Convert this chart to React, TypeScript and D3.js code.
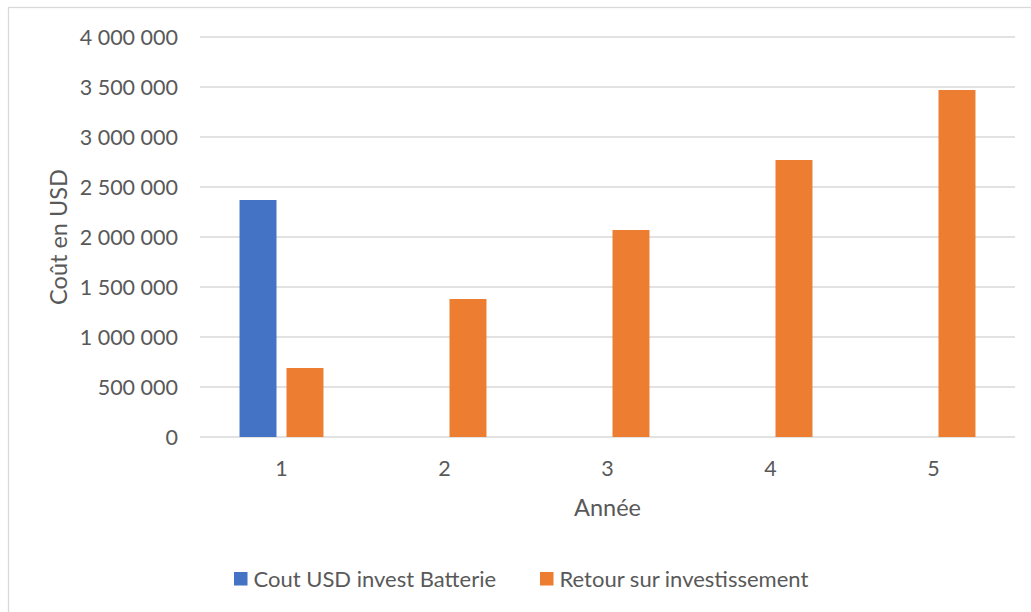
import * as d3 from 'd3'
import { useEffect, useRef } from 'react'

// valeurs
const years = ['1', '2', '3', '4', '5']
const seriesNames = ['Cout USD invest Batterie', 'Retour sur investissement']
const coutBatterie: (number | null)[] = [2370000, null, null, null, null]
const retourInvest: (number | null)[] = [690000, 1380000, 2070000, 2770000, 3470000]
const seriesColors = ['#4472C4', '#ED7D31']
const yMaxValue = 4000000

const FONT = 'Lato, "Liberation Sans", sans-serif'
const TEXT = '#595959'
const GRID = '#D9D9D9'

function BarChart() {
  const svgRef = useRef<SVGSVGElement>(null)

  useEffect(() => {
    if (!svgRef.current) return
    const svg = d3.select(svgRef.current)
    svg.selectAll('*').remove()

    const w = 1031
    const h = 612
    const plot = { left: 200, right: 1015, top: 37, bottom: 437 }

    // cadre du graphique
    svg.append('rect')
      .attr('x', 8.5).attr('y', 7.5)
      .attr('width', w).attr('height', h)
      .attr('fill', '#fff').attr('stroke', GRID).attr('stroke-width', 1.3)

    const x0 = d3.scaleBand<string>()
      .domain(years)
      .range([plot.left, plot.right])
      .paddingInner(0.485)
      .paddingOuter(0.2425)
    const x1 = d3.scaleBand<string>()
      .domain(seriesNames)
      .range([0, x0.bandwidth()])
      .paddingInner(0.213)
    const y = d3.scaleLinear().domain([0, yMaxValue]).range([plot.bottom, plot.top])

    const fmt = d3.formatLocale({ decimal: ',', thousands: ' ', grouping: [3], currency: ['', ''] }).format(',d')

    // grille + libellés Y
    const ticks = y.ticks(8)
    svg.append('g')
      .selectAll('line')
      .data(ticks)
      .join('line')
      .attr('x1', plot.left).attr('x2', plot.right)
      .attr('y1', (d) => y(d)).attr('y2', (d) => y(d))
      .attr('stroke', GRID).attr('stroke-width', 1.3)

    svg.append('g')
      .selectAll('text')
      .data(ticks)
      .join('text')
      .attr('x', 178)
      .attr('y', (d) => y(d))
      .attr('dy', '0.36em')
      .attr('text-anchor', 'end')
      .attr('font-family', FONT).attr('font-size', 21.5).attr('fill', TEXT)
      .text((d) => fmt(d))

    // barres
    const allSeries = [coutBatterie, retourInvest]
    allSeries.forEach((vals, si) => {
      const pts = years
        .map((yr, i) => ({ yr, v: vals[i] }))
        .filter((p) => p.v != null) as { yr: string; v: number }[]
      svg.append('g')
        .selectAll('rect')
        .data(pts)
        .join('rect')
        .attr('x', (d) => (x0(d.yr) ?? 0) + (x1(seriesNames[si]) ?? 0))
        .attr('width', x1.bandwidth())
        .attr('y', (d) => y(d.v))
        .attr('height', (d) => y(0) - y(d.v))
        .attr('fill', seriesColors[si])
    })

    // libellés X
    svg.append('g')
      .selectAll('text')
      .data(years)
      .join('text')
      .attr('x', (d) => (x0(d) ?? 0) + x0.bandwidth() / 2)
      .attr('y', 476)
      .attr('text-anchor', 'middle')
      .attr('font-family', FONT).attr('font-size', 21.5).attr('fill', TEXT)
      .text((d) => d)

    // titres des axes
    svg.append('text')
      .attr('x', (plot.left + plot.right) / 2)
      .attr('y', 516)
      .attr('text-anchor', 'middle')
      .attr('font-family', FONT).attr('font-size', 23.5).attr('fill', TEXT)
      .text('Année')

    svg.append('text')
      .attr('transform', `translate(67,${(plot.top + plot.bottom) / 2}) rotate(-90)`)
      .attr('text-anchor', 'middle')
      .attr('font-family', FONT).attr('font-size', 23.5).attr('fill', TEXT)
      .text('Coût en USD')

    // légende
    const legendX = [234, 540]
    const lg = svg.append('g')
    seriesNames.forEach((name, i) => {
      lg.append('rect')
        .attr('x', legendX[i]).attr('y', 572)
        .attr('width', 13.5).attr('height', 13.5)
        .attr('fill', seriesColors[i])
      lg.append('text')
        .attr('x', legendX[i] + 19.5).attr('y', 586.5)
        .attr('font-family', FONT).attr('font-size', 22).attr('fill', TEXT)
        .text(name)
    })
  }, [])

  return (
    <svg
      ref={svgRef}
      width={1031}
      height={612}
      style={{ position: 'absolute', left: 0, top: 0, display: 'block' }}
      role="img"
    />
  )
}

export default function App() {
  return <BarChart />
}
